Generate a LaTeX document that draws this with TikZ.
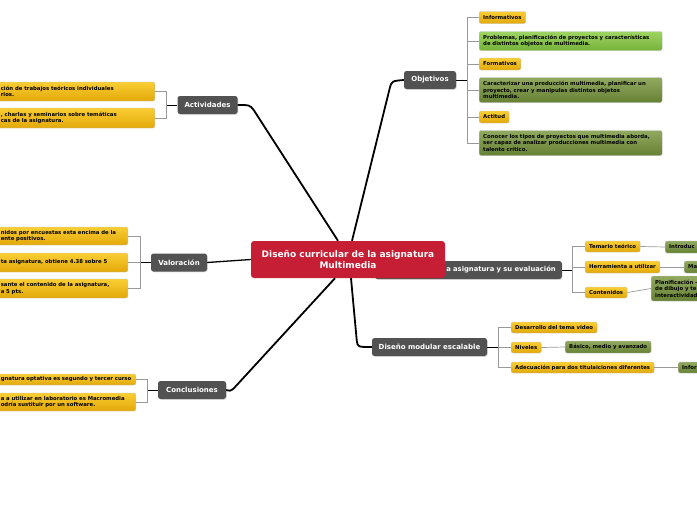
\documentclass[tikz,border=0pt]{standalone}
\usepackage{fontspec}
\setmainfont{DejaVu Sans}
\usetikzlibrary{shadows}

\definecolor{rootred}{RGB}{198,30,52}
\definecolor{topicgray}{RGB}{82,82,82}
\definecolor{leaftop}{RGB}{250,206,52}
\definecolor{leafbot}{RGB}{226,168,8}
\definecolor{greentop}{RGB}{158,212,98}
\definecolor{greenbot}{RGB}{118,178,58}
\definecolor{olivetop}{RGB}{146,170,96}
\definecolor{olivebot}{RGB}{102,128,52}

\begin{document}
\begin{tikzpicture}[x=1pt, y=-1pt,
  root/.style={fill=rootred, rounded corners=3pt, text=white, font=\fontsize{9}{10.5}\selectfont\bfseries, align=center, minimum width=194pt, minimum height=37pt},
  topic/.style={fill=topicgray, rounded corners=2.5pt, text=white, font=\fontsize{7}{8.5}\selectfont\bfseries, minimum height=18pt, drop shadow={opacity=0.25, shadow xshift=0.8pt, shadow yshift=-0.8pt}},
  leaf/.style={draw=black!25, top color=leaftop, bottom color=leafbot, rounded corners=2pt, font=\fontsize{5.35}{6.4}\selectfont\bfseries, minimum height=12pt, inner xsep=4pt, inner ysep=1pt, align=left},
  note/.style={leaf, top color=olivetop, bottom color=olivebot},
  notelight/.style={leaf, top color=greentop, bottom color=greenbot},
  trunk/.style={line width=1.8pt, black},
  stem/.style={line width=0.9pt, black},
  twig/.style={line width=0.7pt, black!40}
]
\useasboundingbox (0,0) rectangle (697,520);
\clip (0,0) rectangle (697,520);

% centre
\node[topic, minimum width=187pt, text width=175pt, inner xsep=6pt, align=right, anchor=east, font=\fontsize{6.8}{8}\selectfont\bfseries] (ev) at (562,270) {a asignatura y su evaluación};
\node[root] (root) at (348,259.5) {Diseño curricular de la asignatura\\Multimedia};

% main topics
\node[topic, minimum width=52pt] (obj) at (430,80) {Objetivos};
\node[topic, minimum width=60pt] (act) at (207.5,105) {Actividades};
\node[topic, minimum width=56pt] (val) at (179,262.5) {Valoración};
\node[topic, minimum width=68pt] (conc) at (192,390) {Conclusiones};
\node[topic, minimum width=115pt] (dis) at (429.5,347) {Diseño modular escalable};

% Objetivos
\node[leaf, anchor=west] (info) at (479,17.5) {Informativos};
\node[notelight, anchor=west, text width=175pt, minimum height=19pt] (probl) at (479,41) {Problemas, planificación de proyectos y características\\de distintos objetos de multimedia.};
\node[leaf, anchor=west] (forma) at (479,64) {Formativos};
\node[note, anchor=west, text width=175pt, minimum height=25pt] (caract) at (479,90) {Caracterizar una producción multimedia, planificar un\\proyecto, crear y manipulas distintos objetos\\multimedia.};
\node[leaf, anchor=west] (actit) at (479,117) {Actitud};
\node[note, anchor=west, text width=175pt, minimum height=25pt] (conocer) at (479,143) {Conocer los tipos de proyectos que multimedia aborda,\\ser capaz de analizar producciones multimedia con\\talento crítico.};

% Actividades
\node[leaf, anchor=east, text width=150pt, minimum height=19pt] (trab) at (155,91.5) {ción de trabajos teóricos individuales\\rios.};
\node[leaf, anchor=east, text width=150pt, minimum height=20pt] (charl) at (155,118) {, charlas y seminarios sobre temáticas\\cas de la asignatura.};

% Valoracion
\node[leaf, anchor=east, text width=123pt, minimum height=18pt] (encu) at (128,236) {nidos por encuestas esta encima de la\\ente positivos.};
\node[leaf, anchor=east, text width=123pt, minimum height=19pt] (nota) at (128,262.5) {ta asignatura, obtiene 4.38 sobre 5};
\node[leaf, anchor=east, text width=123pt, minimum height=19pt] (conten) at (128,288.5) {sante el contenido de la asignatura,\\a 5 pts.};

% Conclusiones
\node[leaf, anchor=east, text width=131pt, minimum height=11pt] (optat) at (136,379.5) {gnatura optativa es segundo y tercer curso};
\node[leaf, anchor=east, text width=131pt, minimum height=18pt] (macro) at (136,402) {a a utilizar en laboratorio es Macromedia\\odría sustituir por un software.};

% evaluacion
\node[leaf, anchor=west, minimum height=11pt] (tema) at (585,246.5) {Temario teórico};
\node[leaf, anchor=west, minimum height=12pt] (herra) at (585,267) {Herramienta a utilizar};
\node[leaf, anchor=west, minimum height=11pt] (conts) at (585,292.5) {Contenidos};
\node[note, anchor=west, text width=50pt] (intro) at (665,247) {Introduc};
\node[note, anchor=west, text width=30pt] (macr) at (684,267) {Ma};
\node[note, anchor=west, text width=60pt, minimum height=25pt] (planif) at (651,288.5) {Planificación –\\de dibujo y te\\interactividad};

% Diseno modular
\node[leaf, anchor=west, minimum height=11pt] (desa) at (511,327.5) {Desarrollo del tema video};
\node[leaf, anchor=west, minimum height=11pt] (nive) at (511,347.5) {Niveles};
\node[leaf, anchor=west, minimum height=11pt] (adec) at (511,367.5) {Adecuación para dos titulaiciones diferentes};
\node[note, anchor=west] (basic) at (565,347) {Básico, medio y avanzado};
\node[note, anchor=west, text width=30pt, minimum height=11pt] (infor) at (678,367.5) {Infor};

% trunks
\draw[trunk] ([xshift=-10pt]root.north) -- ([xshift=16pt,yshift=-5pt]act.east) .. controls +(-4,-5) .. (act.east);
\draw[trunk] ([xshift=4pt]root.north) -- ([xshift=-14pt,yshift=-8pt]obj.west) .. controls +(2,-7) .. (obj.west);
\draw[trunk, line width=1.3pt] (root.west) -- (val.east);
\draw[trunk] ([xshift=-13pt]root.south) -- ([xshift=7pt,yshift=1pt]conc.east) .. controls +(-3,2) .. (conc.east);
\draw[trunk] ([xshift=3pt]root.south) -- ([xshift=-15pt,yshift=6pt]dis.west) .. controls +(1,6) .. (dis.west);

% brackets
\draw[stem] (obj.east) -- ++(11,0) coordinate (objbus);
\foreach \n in {info,probl,forma,caract,actit,conocer} \draw[twig] (objbus) |- (\n.west);
\draw[stem] (act.west) -- ++(-11,0) coordinate (actbus);
\foreach \n in {trab,charl} \draw[twig] (actbus) |- (\n.east);
\draw[stem] (val.west) -- ++(-10,0) coordinate (valbus);
\foreach \n in {encu,nota,conten} \draw[twig] (valbus) |- (\n.east);
\draw[stem] (conc.west) -- ++(-10,0) coordinate (concbus);
\foreach \n in {optat,macro} \draw[twig] (concbus) |- (\n.east);
\draw[stem] (ev.east) -- ++(10,0) coordinate (evbus);
\foreach \n in {tema,herra,conts} \draw[twig] (evbus) |- (\n.west);
\draw[stem] (dis.east) -- ++(11,0) coordinate (disbus);
\foreach \n in {desa,nive,adec} \draw[twig] (disbus) |- (\n.west);

\draw[twig] (tema.east) -- (intro.west);
\draw[twig] (herra.east) -- (macr.west);
\draw[twig] (conts.east) -- (planif.west);
\draw[twig] (nive.east) -- (basic.west);
\draw[twig] (adec.east) -- (infor.west);
\end{tikzpicture}
\end{document}
